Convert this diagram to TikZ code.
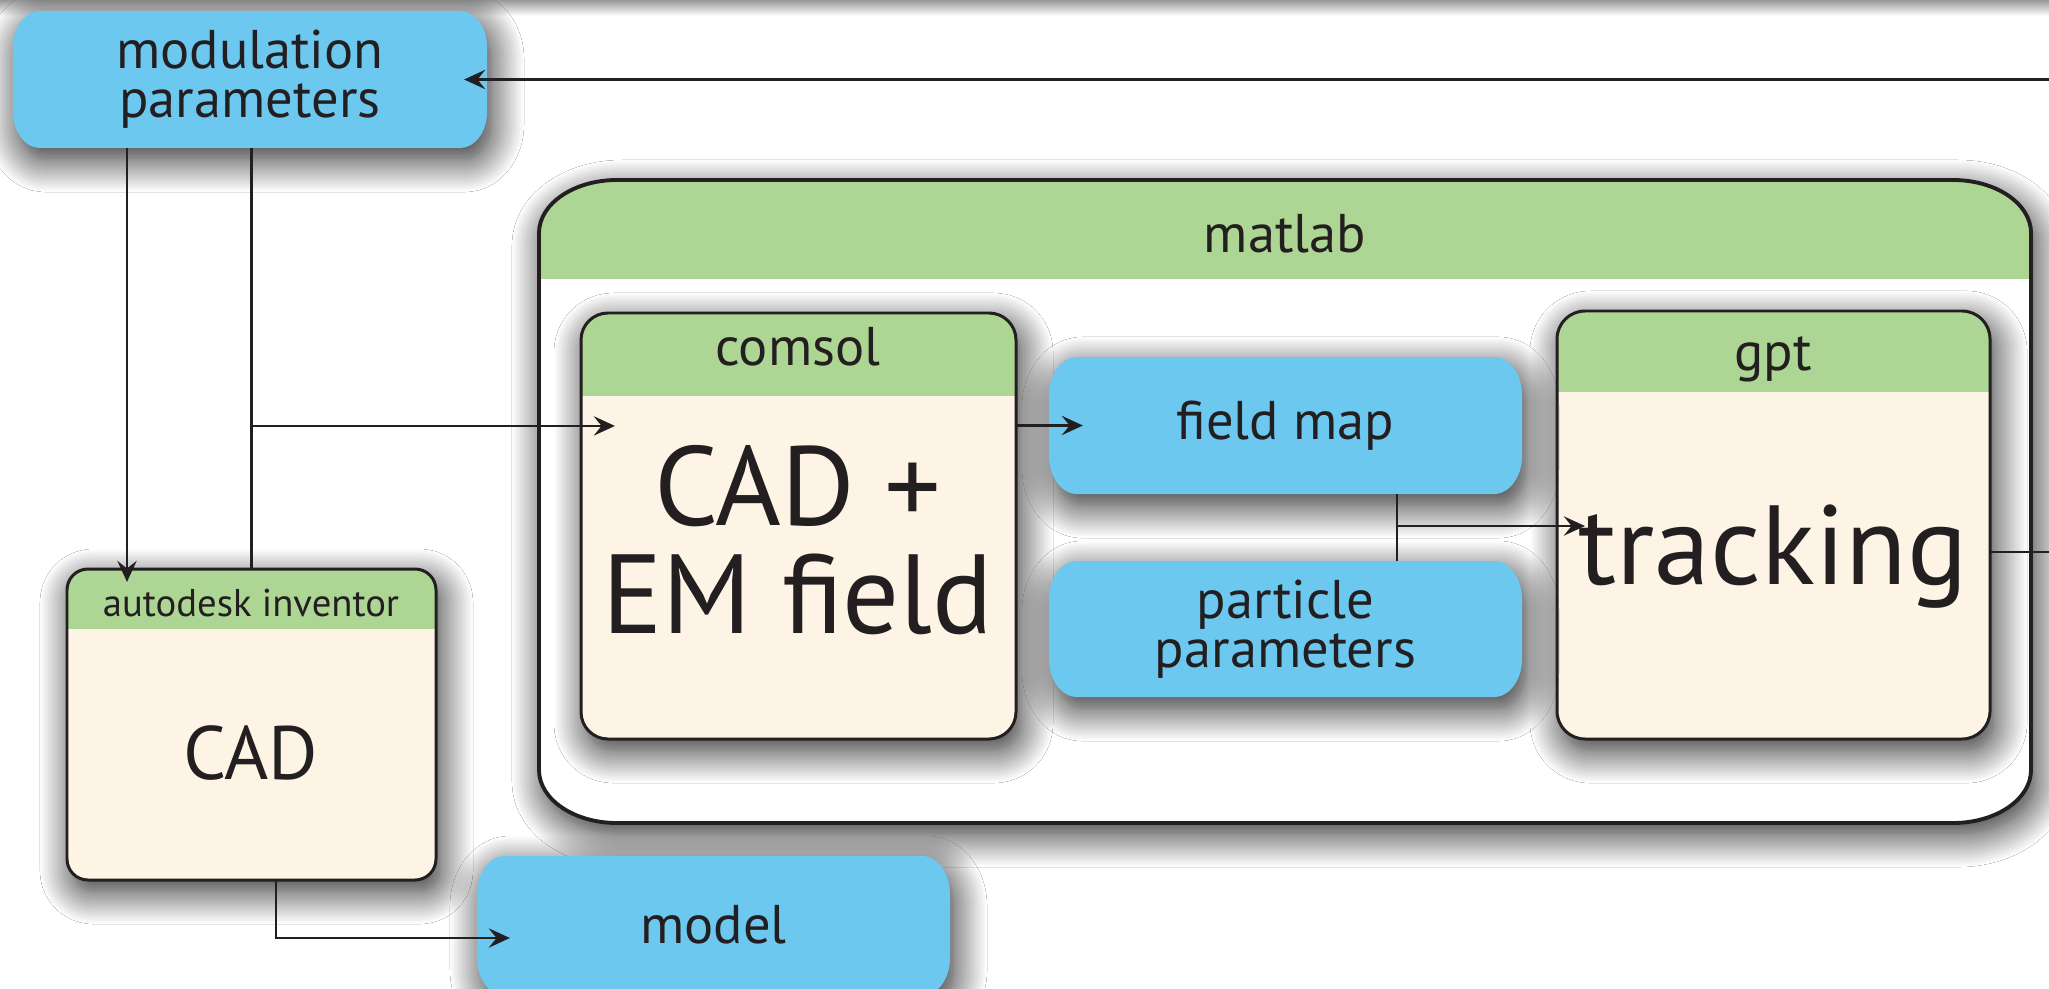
\documentclass[tikz,border=0pt]{standalone}
\usepackage{fontspec}
\setmainfont{PT Sans}
\usetikzlibrary{arrows.meta,shadows.blur,calc}
\definecolor{cblue}{RGB}{109,200,240}
\definecolor{cgreen}{RGB}{173,214,148}
\definecolor{cbeige}{RGB}{253,244,230}
\definecolor{cline}{RGB}{35,31,32}
\tikzset{
  erect/.style n args={6}{insert path={
    ({#1+#5},#2) -- ({#3-#5},#2) .. controls ({#3-0.448*#5},#2) and (#3,{#2+0.448*#6}) .. (#3,{#2+#6})
    -- (#3,{#4-#6}) .. controls (#3,{#4-0.448*#6}) and ({#3-0.448*#5},#4) .. ({#3-#5},#4)
    -- ({#1+#5},#4) .. controls ({#1+0.448*#5},#4) and (#1,{#4-0.448*#6}) .. (#1,{#4-#6})
    -- (#1,{#2+#6}) .. controls (#1,{#2+0.448*#6}) and ({#1+0.448*#5},#2) .. ({#1+#5},#2) -- cycle}},
  shad/.style={blur shadow={shadow xshift=0.05cm, shadow yshift=-0.12cm, shadow blur radius=0.32cm, shadow opacity=85, shadow blur steps=20}},
  border/.style={draw=cline, line width=0.85pt},
  conn/.style={draw=cline, line width=0.6pt},
  arr/.style={conn, -{Stealth[length=6pt,width=5.5pt,inset=2.2pt]}},
  lbl/.style={inner sep=0pt, outer sep=0pt, align=center, text=cline, font=\fontsize{15.5}{14}\selectfont},
  small/.style={lbl, font=\fontsize{11}{13}\selectfont},
  mid/.style={lbl, font=\fontsize{21.5}{24}\selectfont},
  big/.style={lbl, font=\fontsize{32}{30.5}\selectfont},
}
\begin{document}
\begin{tikzpicture}[x=0.01cm,y=-0.01cm]
\useasboundingbox (0,0) rectangle (2049,988);
\fill[white] (0,0) rectangle (2049,988);
\shade[top color=black!40, bottom color=white] (0,0) rectangle (2049,16);

% modulation parameters box
\fill[cblue, shad] [erect={13}{11}{487}{148}{27}{36}];

% matlab
\fill[white, shad] [erect={539}{180}{2031}{823}{78}{53}];
\begin{scope}
  \clip [erect={539}{180}{2031}{823}{78}{53}];
  \fill[cgreen] (539,180) rectangle (2031,279);
\end{scope}
\path[border, line width=1.1pt] [erect={539}{180}{2031}{823}{78}{53}];

% comsol
\fill[cbeige, shad] [erect={581}{313}{1016}{739}{27}{27}];
\begin{scope}
  \clip [erect={581}{313}{1016}{739}{27}{27}];
  \fill[cgreen] (581,313) rectangle (1016,396);
\end{scope}
\path[border] [erect={581}{313}{1016}{739}{27}{27}];

% gpt
\fill[cbeige, shad] [erect={1557}{311}{1990}{739}{28}{28}];
\begin{scope}
  \clip [erect={1557}{311}{1990}{739}{28}{28}];
  \fill[cgreen] (1557,311) rectangle (1990,392);
\end{scope}
\path[border] [erect={1557}{311}{1990}{739}{28}{28}];

% field map, particle parameters
\fill[cblue, shad] [erect={1049}{357}{1522}{494}{28}{38}];
\fill[cblue, shad] [erect={1049}{561}{1522}{697}{28}{38}];

% autodesk inventor
\fill[cbeige, shad] [erect={67}{569}{436}{880}{21}{21}];
\begin{scope}
  \clip [erect={67}{569}{436}{880}{21}{21}];
  \fill[cgreen] (67,569) rectangle (436,629);
\end{scope}
\path[border] [erect={67}{569}{436}{880}{21}{21}];

% model
\fill[cblue, shad] [erect={477}{856}{950}{996}{28}{38}];

% nodes
\node[lbl, minimum width=4.74cm, minimum height=1.37cm] (modpar) at (250,79.5) {modulation\\parameters};
\node[lbl, minimum width=14.92cm, minimum height=6.43cm] (matlab) at (1285,501.5) {};
\node[lbl] (matlabT) at (1285,234) {matlab};
\node[lbl, minimum width=4.35cm, minimum height=4.26cm] (comsol) at (798.5,526) {};
\node[lbl] (comsolT) at (798,347) {comsol};
\node[big] (comsolB) at (798,540) {CAD +\\EM field};
\node[lbl, minimum width=4.33cm, minimum height=4.28cm] (gpt) at (1773.5,525) {};
\node[lbl] (gptT) at (1773,359) {gpt};
\node[big] (gptB) at (1773,557) {tracking};
\node[lbl, minimum width=4.73cm, minimum height=1.37cm] (fieldmap) at (1285.5,425.5) {field map};
\node[lbl, minimum width=4.73cm, minimum height=1.36cm] (particle) at (1285.5,629) {particle\\parameters};
\node[lbl, minimum width=3.69cm, minimum height=3.11cm] (autodesk) at (251.5,724.5) {};
\node[small] (autodeskT) at (251,603) {autodesk inventor};
\node[mid] (autodeskB) at (251,753) {CAD};
\node[lbl, minimum width=4.73cm, minimum height=1.38cm] (model) at (713.5,925) {model};

% connectors
\coordinate (rin) at (2060,79.5);
\draw[arr] (rin) -- ([xshift=-0.23cm]modpar.east);
\coordinate (l1) at (127,0);
\draw[arr] (modpar.south -| l1) -- ([yshift=-0.13cm]autodesk.north -| l1);
\draw[conn] (modpar.south -| autodesk.north) -- (autodesk.north);
\coordinate (cin) at ([xshift=0.34cm,yshift=1cm]comsol.west);
\draw[arr] (autodesk.north |- cin) -- (cin);
\draw[arr] (comsol.east |- fieldmap.west) -- ([xshift=0.34cm]fieldmap.west);
\coordinate (jx) at (1397,526);
\draw[conn] (fieldmap.south -| jx) -- (particle.north -| jx);
\draw[arr] (jx) -- ([xshift=0.28cm]gpt.west |- jx);
\coordinate (rout) at (2060,552);
\draw[conn] (gpt.east |- rout) -- (rout);
\coordinate (k) at (276,938);
\draw[arr] (autodesk.south -| k) -- (k) -- ([xshift=0.33cm]model.west |- k);
\end{tikzpicture}
\end{document}
